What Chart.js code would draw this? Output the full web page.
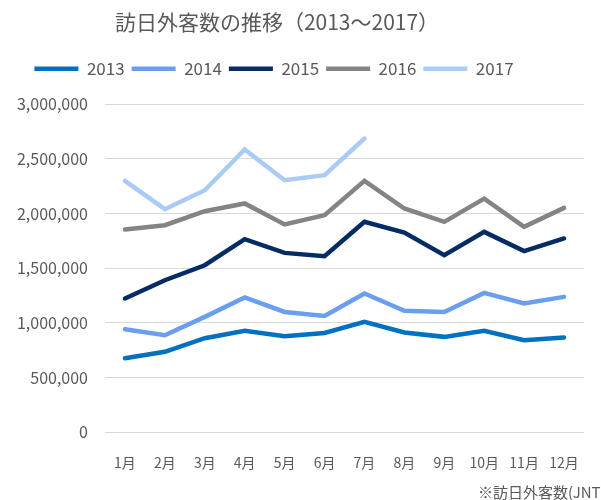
<!DOCTYPE html>
<html>
<head>
<meta charset="utf-8">
<script src="https://cdn.jsdelivr.net/npm/chart.js@4"></script>
<style>
  html, body { margin: 0; padding: 0; background: #fff; }
  #wrap { width: 601px; height: 500px; }
</style>
</head>
<body>
<div id="wrap"><canvas id="visitorChart"></canvas></div>
<script>
var months = ['1月', '2月', '3月', '4月', '5月', '6月', '7月', '8月', '9月', '10月', '11月', '12月'];
var years  = ['2013', '2014', '2015', '2016', '2017'];

var v2013 = [677000, 735000, 860000, 927000, 878000, 908000, 1009000, 912000, 872000, 927000, 841000, 866000];
var v2014 = [942000, 887000, 1055000, 1232000, 1100000, 1064000, 1269000, 1110000, 1100000, 1274000, 1177000, 1238000];
var v2015 = [1223000, 1390000, 1527000, 1765000, 1640000, 1610000, 1924000, 1826000, 1619000, 1832000, 1656000, 1772000];
var v2016 = [1854000, 1893000, 2021000, 2092000, 1900000, 1985000, 2299000, 2046000, 1924000, 2137000, 1878000, 2052000];
var v2017 = [2299000, 2040000, 2213000, 2586000, 2305000, 2351000, 2686000, null, null, null, null, null];

var yTicks = [0, 500000, 1000000, 1500000, 2000000, 2500000, 3000000];
var lineColors = ['#0070C0', '#6A9FF0', '#032B64', '#848484', '#ABCBF7'];

var fontFamily = '"Noto Sans CJK JP", "Noto Sans", sans-serif';
var textColor = '#595959';

function makeSet(i, values) {
    return {
        label: years[i],
        data: values,
        borderColor: lineColors[i],
        backgroundColor: lineColors[i],
        borderWidth: 4.5,
        borderCapStyle: 'round',
        borderJoinStyle: 'miter',
        pointRadius: 0,
        pointHoverRadius: 0,
        tension: 0,
        fill: false,
        spanGaps: false
    };
}

// the original picture has its title and legend centred left of the canvas middle
var shiftHeader = {
    id: 'shiftHeader',
    afterLayout: function (chart) {
        var t = chart.titleBlock, l = chart.legend;
        if (t) {
            var dt = 277 - (t.left + t.right) / 2;
            t.left += dt; t.right += dt;
        }
        if (l) {
            var dl = 274 - (l.left + l.right) / 2;
            l.left += dl; l.right += dl;
            l.top -= 17; l.bottom -= 17;
            l.legendHitBoxes.forEach(function (b) { b.left += dl; b.top -= 17; });
        }
    }
};

// footnote in the bottom right corner, partly cut off by the canvas edge
var noteText = {
    id: 'noteText',
    afterDraw: function (chart) {
        var ctx = chart.ctx;
        ctx.save();
        ctx.font = '15px ' + fontFamily;
        ctx.fillStyle = textColor;
        ctx.textAlign = 'left';
        ctx.textBaseline = 'middle';
        ctx.fillText('※訪日外客数(JNTO)', 478, chart.height - 8);
        ctx.restore();
    }
};

new Chart(document.getElementById('visitorChart').getContext('2d'), {
    type: 'line',
    data: {
        labels: months,
        datasets: [
            makeSet(0, v2013),
            makeSet(1, v2014),
            makeSet(2, v2015),
            makeSet(3, v2016),
            makeSet(4, v2017)
        ]
    },
    options: {
        responsive: true,
        maintainAspectRatio: false,
        animation: false,
        layout: { padding: { left: 0, right: 5, top: 9, bottom: 7 } },
        plugins: {
            title: {
                display: true,
                text: '訪日外客数の推移（2013～2017）',
                color: textColor,
                font: { family: fontFamily, size: 21, weight: 'normal' },
                padding: { top: 0, bottom: 36 }
            },
            legend: {
                position: 'top',
                labels: {
                    usePointStyle: true,
                    pointStyle: 'line',
                    pointStyleWidth: 44,
                    color: textColor,
                    font: { family: fontFamily, size: 17 },
                    padding: 7
                }
            },
            tooltip: { enabled: false }
        },
        scales: {
            x: {
                offset: true,
                grid: { display: false, drawTicks: false },
                border: { display: false },
                ticks: {
                    color: textColor,
                    font: { family: fontFamily, size: 14 },
                    padding: 22,
                    maxRotation: 0,
                    autoSkip: false
                }
            },
            y: {
                min: 0,
                max: 3000000,
                afterFit: function (scale) { scale.width = 105; },
                afterBuildTicks: function (scale) {
                    scale.ticks = yTicks.map(function (v) { return { value: v }; });
                },
                grid: { color: '#D9D9D9', lineWidth: 1, drawTicks: false },
                border: { display: false },
                ticks: {
                    color: textColor,
                    font: { family: fontFamily, size: 16 },
                    padding: 17,
                    callback: function (v) { return v.toLocaleString('en-US'); }
                }
            }
        }
    },
    plugins: [shiftHeader, noteText]
});
</script>
</body>
</html>
